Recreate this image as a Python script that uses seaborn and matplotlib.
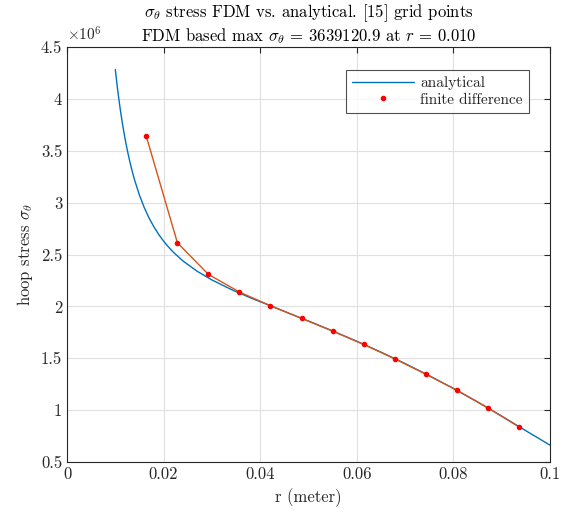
import numpy as np
import pandas as pd
import matplotlib
matplotlib.use("Agg")
import matplotlib.pyplot as plt
import seaborn as sns
from matplotlib.ticker import FuncFormatter

# analytical hoop stress
r_analytical = [0.0100, 0.0105, 0.0110, 0.0115, 0.0120, 0.0125, 0.0130, 0.0135,
                0.0140, 0.0150, 0.0160, 0.0170, 0.0180, 0.0190, 0.0200, 0.0210,
                0.0220, 0.0240, 0.0270, 0.0300, 0.0340, 0.0380, 0.0420, 0.0460,
                0.0500, 0.0550, 0.0600, 0.0650, 0.0700, 0.0750, 0.0800, 0.0850,
                0.0900, 0.0950, 0.1000]
s_analytical = [4.284, 4.083, 3.909, 3.756, 3.622, 3.503, 3.398, 3.303,
                3.219, 3.073, 2.953, 2.852, 2.767, 2.693, 2.630, 2.574,
                2.524, 2.439, 2.338, 2.256, 2.164, 2.083, 2.009, 1.934,
                1.860, 1.764, 1.665, 1.560, 1.450, 1.333, 1.210, 1.080,
                0.944, 0.803, 0.664]

# finite difference solution (interior grid points)
r_fdm = [0.01643, 0.02286, 0.02929, 0.03571, 0.04214, 0.04857, 0.05500,
         0.06143, 0.06786, 0.07429, 0.08071, 0.08714, 0.09357]
s_fdm = [3.639, 2.614, 2.309, 2.139, 2.007, 1.885, 1.763,
         1.634, 1.496, 1.348, 1.194, 1.023, 0.840]

x_ticks = [0, 0.02, 0.04, 0.06, 0.08, 0.1]
y_ticks = [0.5, 1, 1.5, 2, 2.5, 3, 3.5, 4, 4.5]

df_a = pd.DataFrame({"r": r_analytical, "s": np.array(s_analytical) * 1e6})
df_f = pd.DataFrame({"r": r_fdm, "s": np.array(s_fdm) * 1e6})

sns.set_style("white")
plt.rcParams["font.family"] = ["cmr10", "DejaVu Serif"]
plt.rcParams["mathtext.fontset"] = "cm"
plt.rcParams["axes.unicode_minus"] = False

fig = plt.figure(figsize=(5.68, 5.18), dpi=100)
ax = fig.add_axes([0.118, 0.108, 0.850, 0.801])

sns.lineplot(data=df_a, x="r", y="s", ax=ax, color="#0072BD", linewidth=1.0,
             sort=False, estimator=None, label="analytical")
sns.lineplot(data=df_f, x="r", y="s", ax=ax, color="#D95319", linewidth=1.0,
             sort=False, estimator=None, label="_nolegend_")
ax.plot(df_f["r"], df_f["s"], linestyle="none", marker="o", markersize=3.0,
        color="red", label="finite difference")

ax.set_xlim(0, 0.1)
ax.set_ylim(0.5e6, 4.5e6)
ax.set_xticks(x_ticks)
ax.set_yticks([v * 1e6 for v in y_ticks])
ax.xaxis.set_major_formatter(FuncFormatter(lambda v, p: f"{v:g}"))
ax.yaxis.set_major_formatter(FuncFormatter(lambda v, p: f"{v / 1e6:g}"))
ax.tick_params(direction="in", length=4, top=True, right=True,
               labelsize=12, colors="#262626", width=0.8)
ax.grid(True, color="#e0e0e0", linewidth=0.8)
for sp in ax.spines.values():
    sp.set_color("#262626")
    sp.set_linewidth(0.8)

ax.set_xlabel("r (meter)", fontsize=12, color="#262626")
ax.set_ylabel(r"hoop stress $\sigma_\theta$", fontsize=12, color="#262626")
ax.set_title("$\\sigma_\\theta$ stress FDM vs. analytical. [15] grid points\n"
             "FDM based max $\\sigma_\\theta$ = 3639120.9 at $r$ = 0.010",
             fontsize=12, color="black", pad=4, linespacing=1.15)
ax.text(0.0, 1.008, r"$\times10^{6}$", transform=ax.transAxes,
        fontsize=11, color="#262626", va="bottom", ha="left")

leg = ax.legend(loc="upper right", bbox_to_anchor=(0.957, 0.945), fontsize=11,
                frameon=True, fancybox=False, edgecolor="#262626",
                handlelength=4.0, handletextpad=0.45, labelspacing=0.2,
                borderpad=0.4, borderaxespad=0)
leg.get_frame().set_linewidth(0.8)

fig.savefig("out.png", dpi=100)
